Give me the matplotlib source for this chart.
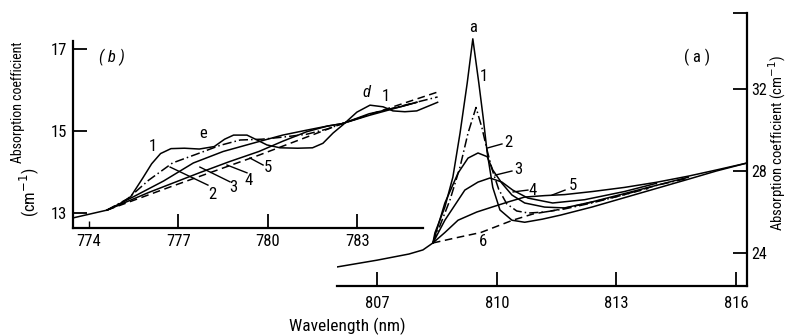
import matplotlib
matplotlib.use("Agg")
import matplotlib.pyplot as plt

FONT = ['Roboto Condensed', 'Archivo Narrow', 'DejaVu Sans']
plt.rcParams['font.family'] = FONT

# ---------------- Panel (b) data: 774-786 nm ----------------
b_x1 = [773.46, 774.0, 774.6, 775.0, 775.4, 775.8, 776.1, 776.4, 776.75, 777.2, 777.7, 778.2,
        778.55, 778.85, 779.3, 779.64, 779.97, 780.41, 781.0, 781.5, 781.85, 782.19, 782.52,
        782.99, 783.43, 783.87, 784.2, 784.6, 785.0, 785.3, 785.7]
b_y1 = [12.88, 12.97, 13.07, 13.2, 13.4, 13.85, 14.2, 14.45, 14.57, 14.58, 14.56, 14.62,
        14.8, 14.9, 14.9, 14.78, 14.66, 14.59, 14.58, 14.59, 14.7, 14.95, 15.15,
        15.46, 15.63, 15.59, 15.49, 15.47, 15.49, 15.58, 15.7]
b_x2 = [774.6, 775.3, 776.0, 776.8, 777.7, 778.4, 779.07, 779.8, 780.5, 781.3, 782.0, 782.5,
        783.0, 783.4, 784.0, 784.6, 785.2, 785.7]
b_y2 = [13.07, 13.35, 13.8, 14.22, 14.46, 14.65, 14.78, 14.8, 14.85, 14.92, 15.05, 15.18,
        15.3, 15.4, 15.52, 15.63, 15.74, 15.83]
b_x3 = [774.6, 775.5, 776.5, 777.5, 778.5, 779.64, 780.5, 781.3, 782.0, 782.5, 783.4, 784.5, 785.0]
b_y3 = [13.07, 13.4, 13.78, 14.22, 14.5, 14.73, 14.9, 15.02, 15.12, 15.18, 15.42, 15.6, 15.7]
b_x4 = [774.6, 776.0, 777.7, 778.7, 779.7, 780.5, 781.3, 782.0, 782.5, 783.4, 784.5, 785.0]
b_y4 = [13.07, 13.5, 13.98, 14.25, 14.5, 14.75, 14.98, 15.12, 15.18, 15.38, 15.6, 15.7]
b_x5 = [774.6, 776.7, 779.7, 782.5, 785.7]
b_y5 = [13.07, 13.63, 14.41, 15.18, 15.95]

# ---------------- Panel (a) data: 806-816 nm ----------------
a_x1 = [806.0, 807.0, 807.8, 808.15, 808.4, 808.45, 808.7, 808.9, 809.08, 809.26, 809.4,
        809.55, 809.66, 809.76, 809.9, 810.08, 810.38, 810.7, 811.14, 811.6, 812.4, 813.2,
        814.0, 814.8, 815.5, 816.27]
a_y1 = [23.32, 23.65, 23.95, 24.15, 24.49, 24.98, 26.24, 27.7, 29.85, 32.3, 34.45,
        32.3, 30.6, 28.9, 27.2, 26.1, 25.6, 25.5, 25.65, 25.85, 26.25, 26.7,
        27.15, 27.6, 28.0, 28.39]
a_x2 = [808.4, 808.53, 808.83, 809.08, 809.28, 809.48, 809.63, 809.76, 809.88, 810.05,
        810.25, 810.5, 810.8, 811.2, 811.7, 812.4, 813.2, 814.0, 814.8]
a_y2 = [24.49, 25.1, 26.6, 28.2, 29.85, 31.1, 30.1, 29.0, 28.1, 27.1,
        26.4, 26.05, 25.95, 26.0, 26.15, 26.45, 26.85, 27.3, 27.65]
a_x3 = [808.4, 808.7, 809.03, 809.28, 809.53, 809.76, 809.9, 810.13, 810.38, 810.7,
        811.2, 811.7, 812.4, 813.2, 814.0, 814.8]
a_y3 = [24.49, 26.44, 27.9, 28.63, 28.88, 28.7, 28.05, 27.4, 26.83, 26.44,
        26.24, 26.2, 26.5, 26.9, 27.3, 27.7]
a_x4 = [808.4, 808.7, 809.2, 809.53, 809.83, 810.13, 810.4, 810.78, 811.4, 812.2, 813.2, 814.0]
a_y4 = [24.49, 25.6, 27.07, 27.46, 27.66, 27.46, 27.07, 26.68, 26.44, 26.6, 27.0, 27.4]
a_x5 = [808.4, 808.7, 809.03, 809.5, 809.88, 810.3, 810.7, 811.2, 811.7, 812.4, 813.2,
        814.0, 814.8, 815.5, 816.27]
a_y5 = [24.49, 25.0, 25.6, 26.0, 26.24, 26.5, 26.73, 26.8, 26.85, 27.0, 27.2,
        27.45, 27.75, 28.05, 28.39]
a_x6 = [808.4, 809.0, 809.6, 810.0, 810.4, 810.9, 811.5, 812.2, 813.0, 813.8]
a_y6 = [24.49, 24.75, 25.0, 25.3, 25.6, 25.9, 26.1, 26.4, 26.75, 27.15]

b_xticks = [777, 780, 783]
b_minor = [774]
b_yticks = [13, 15, 17]
a_xticks = [807, 810, 813, 816]
a_yticks = [24, 28, 32]

W, H = 788, 335
fig = plt.figure(figsize=(W / 100, H / 100), dpi=100)

def frac(l, t, r, b):
    return [l / W, 1 - b / H, (r - l) / W, (b - t) / H]

K = 'black'
LW = 1.1
TS = 12

# -------- panel (b) --------
axb = fig.add_axes(frac(73, 41, 440, 228))
axb.patch.set_alpha(0)
axb.set_xlim(773.46, 785.78)
axb.set_ylim(12.634, 17.195)
for s in ('top', 'right'):
    axb.spines[s].set_visible(False)
for s in ('left', 'bottom'):
    axb.spines[s].set_linewidth(1.6)
axb.spines['bottom'].set_bounds(773.46, 785.2)
axb.plot(b_x1, b_y1, color=K, lw=LW)
axb.plot(b_x2, b_y2, color=K, lw=LW, ls=(0, (6, 2, 1, 2)))
axb.plot(b_x3, b_y3, color=K, lw=LW)
axb.plot(b_x4, b_y4, color=K, lw=LW)
axb.plot(b_x5, b_y5, color=K, lw=LW, ls=(0, (5, 3)))
axb.set_xticks(b_xticks, labels=[str(v) for v in b_xticks])
axb.set_xticks(b_minor, labels=[str(v) for v in b_minor], minor=True)
axb.set_yticks(b_yticks, labels=[str(v) for v in b_yticks])
axb.tick_params(axis='both', which='major', direction='in', length=10, width=1.3,
                labelsize=TS, pad=4)
axb.tick_params(axis='x', which='minor', direction='in', length=5, width=1.0,
                labelsize=TS, pad=4)
axb.tick_params(axis='y', which='minor', left=False)

fig.text(112 / W, 1 - 57 / H, '( b )', fontsize=12, ha='center', va='center',
         fontstyle='italic')
tb = dict(fontsize=12, ha='center', va='center')
axb.text(776.15, 14.61, '1', **tb)
axb.text(777.83, 14.95, 'e', **tb)
axb.text(783.3, 15.93, 'd', fontstyle='italic', **tb)
axb.text(783.97, 15.83, '1', **tb)
for (x0, y0, x1, y1, lab, lx, ly) in [
        (776.72, 14.12, 777.99, 13.68, '2', 778.13, 13.44),
        (777.72, 14.12, 778.73, 13.76, '3', 778.83, 13.61),
        (778.63, 14.17, 779.30, 13.98, '4', 779.37, 13.80),
        (779.40, 14.34, 779.84, 14.17, '5', 780.00, 14.12)]:
    axb.plot([x0, x1], [y0, y1], color=K, lw=1.0)
    axb.text(lx, ly, lab, **tb)

# -------- panel (a) --------
axa = fig.add_axes(frac(337, 13, 747, 286))
axa.patch.set_alpha(0)
axa.set_xlim(805.997, 816.27)
axa.set_ylim(22.39, 35.71)
for s in ('top', 'left'):
    axa.spines[s].set_visible(False)
for s in ('right', 'bottom'):
    axa.spines[s].set_linewidth(1.6)
axa.plot(a_x1, a_y1, color=K, lw=LW)
axa.plot(a_x2, a_y2, color=K, lw=LW, ls=(0, (6, 2, 1, 2)))
axa.plot(a_x3, a_y3, color=K, lw=LW)
axa.plot(a_x4, a_y4, color=K, lw=LW)
axa.plot(a_x5, a_y5, color=K, lw=LW)
axa.plot(a_x6, a_y6, color=K, lw=LW, ls=(0, (5, 3)))
axa.yaxis.tick_right()
axa.set_xticks(a_xticks, labels=[str(v) for v in a_xticks])
axa.set_yticks(a_yticks + [35.71], labels=[str(v) for v in a_yticks] + [''])
axa.tick_params(axis='both', direction='in', length=10, width=1.3, labelsize=TS)
axa.tick_params(axis='x', pad=7)
axa.tick_params(axis='y', pad=3, labelsize=11.5)

fig.text(697 / W, 1 - 57 / H, '( a )', fontsize=12, ha='center', va='center')
ta = dict(fontsize=12, ha='center', va='center')
axa.text(809.41, 34.98, 'a', **ta)
axa.text(809.68, 32.59, '1', **ta)
axa.text(809.66, 24.54, '6', **ta)
for (x0, y0, x1, y1, lab, lx, ly) in [
        (809.76, 29.12, 810.13, 29.32, '2', 810.28, 29.37),
        (809.96, 27.80, 810.38, 28.00, '3', 810.53, 28.05),
        (810.41, 26.98, 810.78, 27.07, '4', 810.91, 27.07),
        (811.39, 26.83, 811.71, 27.07, '5', 811.91, 27.27)]:
    axa.plot([x0, x1], [y0, y1], color=K, lw=1.0)
    axa.text(lx, ly, lab, **ta)

# axis labels
fig.text(18 / W, 1 - 102 / H, 'Absorption coefficient', rotation=90, fontsize=10,
         ha='center', va='center')
fig.text(29 / W, 1 - 192 / H, '(cm$^{-1}$)', rotation=90, fontsize=12,
         ha='center', va='center')
fig.text(777 / W, 1 - 143 / H, 'Absorption coefficient (cm$^{-1}$)', rotation=90,
         fontsize=10.5, ha='center', va='center')
fig.text(347 / W, 1 - 326 / H, 'Wavelength (nm)', fontsize=12.5, ha='center', va='center')

fig.savefig('out.png', dpi=100)
